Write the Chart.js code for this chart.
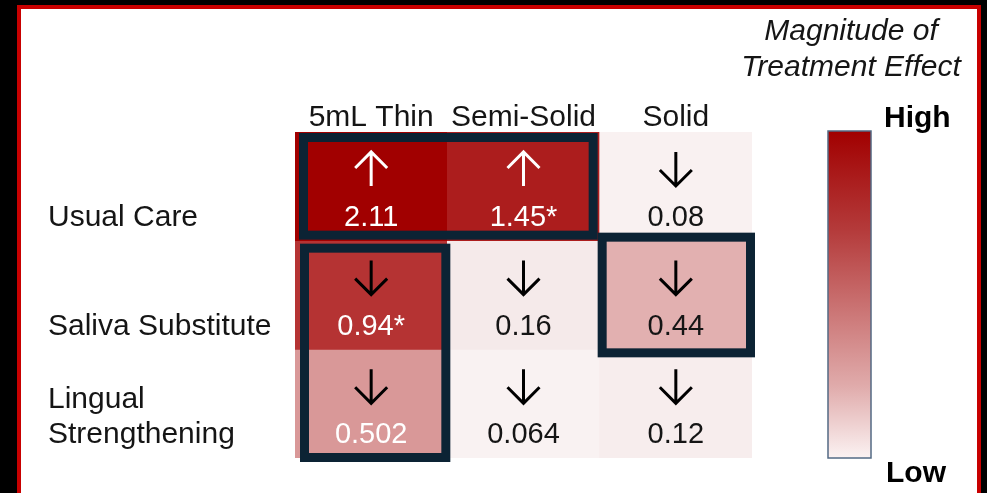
<!DOCTYPE html>
<html>
<head>
<meta charset="utf-8">
<script src="https://cdn.jsdelivr.net/npm/chart.js"></script>
<style>
  html, body { margin: 0; padding: 0; background: #000; width: 987px; height: 493px; overflow: hidden; }
  #frame { position: absolute; left: 17px; top: 5px; width: 964px; height: 540px; box-sizing: border-box;
           border: 4px solid #c80000; background: #fff; }
  #chart { position: absolute; left: 0; top: 0; }
</style>
</head>
<body>
<div id="frame"></div>
<canvas id="chart" width="987" height="493"></canvas>
<script>
const columns = ['5mL Thin', 'Semi-Solid', 'Solid'];
const rows = [['Usual Care'], ['Saliva Substitute'], ['Lingual', 'Strengthening']];
const effects = [
    [2.11, 1.45, 0.08],
    [0.94, 0.16, 0.44],
    [0.502, 0.064, 0.12]
];
const significant = [
    [false, true, false],
    [true, false, false],
    [false, false, false]
];
const directions = [
    ['up', 'up', 'down'],
    ['down', 'down', 'down'],
    ['down', 'down', 'down']
];
// outlined groups of cells: [firstCol, lastCol, firstRow, lastRow]
const highlights = [[0, 1, 0, 0], [0, 0, 1, 2], [2, 2, 1, 1]];
const legendTitle = ['Magnitude of', 'Treatment Effect'];
const legendEnds = ['High', 'Low'];

// colour scale: effect size -> rgb
const colorStops = [
    [0, [252, 247, 247]],
    [0.16, [245, 234, 234]],
    [0.44, [226, 176, 176]],
    [0.5, [217, 152, 152]],
    [0.94, [181, 51, 51]],
    [2.11, [161, 0, 0]]
];

function heatColor(v) {
    for (let k = 1; k < colorStops.length; k++) {
        const [v0, c0] = colorStops[k - 1];
        const [v1, c1] = colorStops[k];
        if (v <= v1 || k === colorStops.length - 1) {
            const t = Math.max(0, Math.min(1, (v - v0) / (v1 - v0)));
            const c = c0.map((a, i) => Math.round(a + (c1[i] - a) * t));
            return `rgb(${c[0]}, ${c[1]}, ${c[2]})`;
        }
    }
}

const FONT = '"Liberation Sans", Arial, sans-serif';
const INK = '#151515';
const BOX = '#0c2334';
// hand-drawn look of the outlines: grow per side [left, top, right, bottom]
const boxGrow = [[-4, -1, -2, -1], [-5, -3, 3, 4], [2, 8, 3, 8]];

function drawArrow(ctx, x, y, dir, color) {
    const h = 34, w = 16, s = dir === 'up' ? -1 : 1;
    const tipY = y + s * h / 2, tailY = y - s * h / 2;
    ctx.beginPath();
    ctx.moveTo(x, tailY);
    ctx.lineTo(x, tipY);
    ctx.moveTo(x - w, tipY - s * w);
    ctx.lineTo(x, tipY);
    ctx.lineTo(x + w, tipY - s * w);
    ctx.strokeStyle = color;
    ctx.lineWidth = 3;
    ctx.lineJoin = 'miter';
    ctx.stroke();
}

const annotations = {
    id: 'annotations',
    afterDatasetsDraw(chart) {
        const ctx = chart.ctx;
        const xs = chart.scales.x, ys = chart.scales.y;
        const area = chart.chartArea;
        const colW = xs.getPixelForValue(1) - xs.getPixelForValue(0);
        const colEdge = j => xs.getPixelForValue(0) - colW / 2 + j * colW;
        ctx.save();

        // outlines round the highlighted cells
        highlights.forEach(([c0, c1, r0, r1], k) => {
            const [gl, gt, gr, gb] = boxGrow[k];
            const lw = 9;
            const x0 = colEdge(c0) - gl, x1 = colEdge(c1 + 1) + gr;
            const y0 = ys.getPixelForValue(r0) - gt, y1 = ys.getPixelForValue(r1 + 1) + gb;
            ctx.strokeStyle = BOX;
            ctx.lineWidth = lw;
            ctx.strokeRect(x0 + lw / 2, y0 + lw / 2, x1 - x0 - lw, y1 - y0 - lw);
        });

        // arrows and values
        ctx.textAlign = 'center';
        ctx.textBaseline = 'middle';
        ctx.font = `29px ${FONT}`;
        effects.forEach((row, i) => {
            row.forEach((v, j) => {
                const x = xs.getPixelForValue(j);
                const dir = directions[i][j];
                drawArrow(ctx, x, ys.getPixelForValue(i + 0.34), dir, dir === 'up' ? '#ffffff' : '#000000');
                ctx.fillStyle = v >= 0.5 ? '#ffffff' : INK;
                ctx.fillText(String(v) + (significant[i][j] ? '*' : ''), x, ys.getPixelForValue(i + 0.79));
            });
        });

        // column labels
        ctx.font = `30px ${FONT}`;
        ctx.fillStyle = INK;
        columns.forEach((c, j) => ctx.fillText(c, xs.getPixelForValue(j), area.top - 14));

        // row labels
        ctx.textAlign = 'left';
        rows.forEach((lines, i) => {
            const base = ys.getPixelForValue(i + 0.79);
            lines.forEach((t, n) => ctx.fillText(t, 48, base - (lines.length - 1 - n) * 35));
        });

        // legend
        ctx.textAlign = 'center';
        ctx.font = `italic 30px ${FONT}`;
        legendTitle.forEach((t, n) => ctx.fillText(t, 851, 32 + n * 36));

        const bx = 828, bw = 43, by = area.top - 1, bh = area.bottom - area.top + 1;
        const grad = ctx.createLinearGradient(0, by, 0, by + bh);
        grad.addColorStop(0, heatColor(2.11));
        grad.addColorStop(0.3, '#b43a3a');
        grad.addColorStop(0.55, '#cb7575');
        grad.addColorStop(0.78, '#e0abab');
        grad.addColorStop(1, '#fbf2f2');
        ctx.fillStyle = grad;
        ctx.fillRect(bx, by, bw, bh);
        ctx.strokeStyle = '#536a84';
        ctx.lineWidth = 1.5;
        ctx.strokeRect(bx, by, bw, bh);

        ctx.textAlign = 'left';
        ctx.font = `bold 30px ${FONT}`;
        ctx.fillStyle = '#000';
        ctx.fillText(legendEnds[0], 884, 119);
        ctx.fillText(legendEnds[1], 886, 474);
        ctx.restore();
    }
};

new Chart(document.getElementById('chart'), {
    type: 'bar',
    data: {
        labels: columns,
        datasets: rows.map((r, i) => ({
            label: r.join(' '),
            data: effects[i].map(() => [i, i + 1]),
            backgroundColor: effects[i].map(heatColor),
            borderWidth: 0,
            grouped: false,
            barPercentage: 1,
            categoryPercentage: 1
        }))
    },
    options: {
        responsive: false,
        animation: false,
        layout: { padding: { left: 295, right: 235, top: 132, bottom: 35 } },
        scales: {
            x: { type: 'category', display: false, offset: true },
            y: { type: 'linear', min: 0, max: 3, reverse: true, display: false }
        },
        plugins: { legend: { display: false }, tooltip: { enabled: false } }
    },
    plugins: [annotations]
});
</script>
</body>
</html>
